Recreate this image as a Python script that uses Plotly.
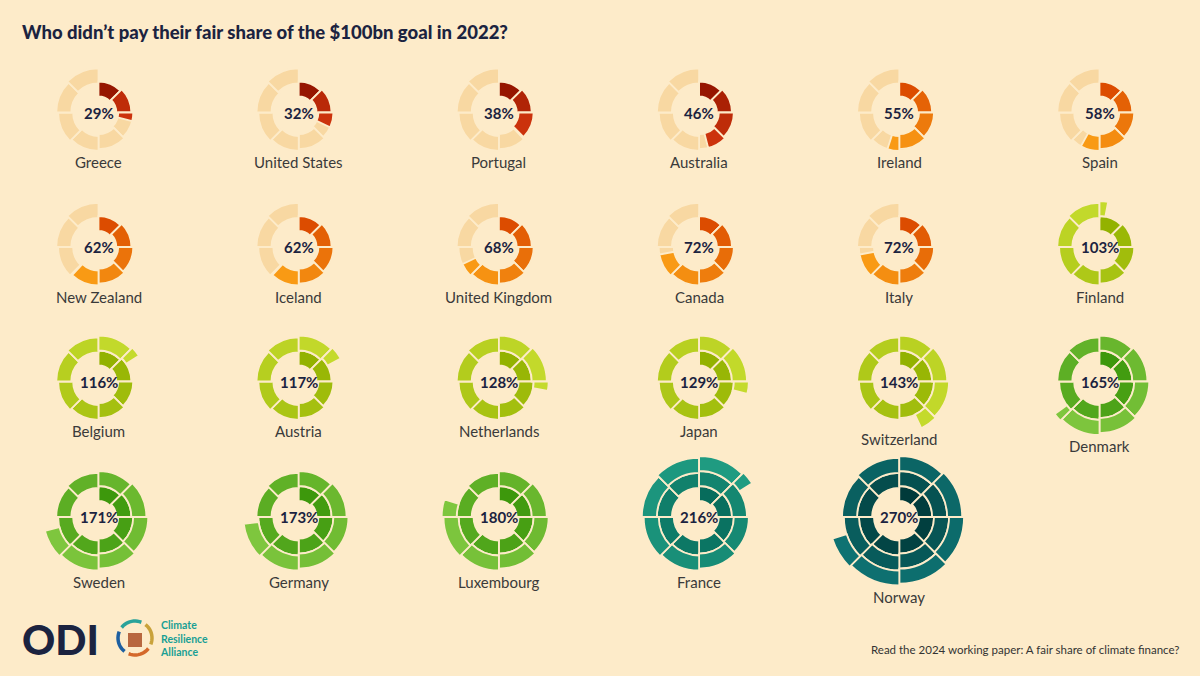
import numpy as np
import plotly.graph_objects as go

# ---------------- data ----------------
countries = ["Greece", "United States", "Portugal", "Australia", "Ireland", "Spain",
             "New Zealand", "Iceland", "United Kingdom", "Canada", "Italy", "Finland",
             "Belgium", "Austria", "Netherlands", "Japan", "Switzerland", "Denmark",
             "Sweden", "Germany", "Luxembourg", "France", "Norway"]
shares = [29, 32, 38, 46, 55, 58,
          62, 62, 68, 72, 72, 103,
          116, 117, 128, 129, 143, 165,
          171, 173, 180, 216, 270]

title_text = "Who didn\u2019t pay their fair share of the $100bn goal in 2022?"
footer_text = "Read the 2024 working paper: A fair share of climate finance?"

# ---------------- style ----------------
W, H = 1200, 676
BG = "#fdebc9"
PALE = "#f8d8a2"
NAVY = "#1b2340"
LABEL = "#3a3a3a"

def palette(v):
    if v < 50:
        return ("#961600", "#cc330c")
    if v < 100:
        return ("#dc4c00", "#f99a14")
    if v < 150:
        return ("#93b200", "#c4da2c")
    if v < 200:
        return ("#3d980c", "#7ec63e")
    if v < 250:
        return ("#076c5c", "#1f9c82")
    return ("#003a3a", "#0e7272")

def mix(c1, c2, t):
    a = [int(c1[i:i + 2], 16) for i in (1, 3, 5)]
    b = [int(c2[i:i + 2], 16) for i in (1, 3, 5)]
    return "#" + "".join(f"{int(round(x + (y - x) * t)):02x}" for x, y in zip(a, b))

SEG_PCT = 12.5          # each segment = 12.5 % = 45 degrees
SEG_DEG = 45.0
R0 = 16.0               # inner radius of first segment (px)
PITCH = 15.0            # radial growth per full turn (px)
STEP = PITCH / 8.0
RING = 15.0             # radial thickness of a segment (px)
S = 150                 # square polar domain size (px)
RMAX = S / 2.0

col_x = [98.5 + 200.2 * k for k in range(6)]
row_y = [112.5, 247.0, 381.5, 517.0]

fig = go.Figure()
annotations = []


def bottom_extent(start, width, r_out):
    ang = np.radians(np.linspace(start, start + width, 60))
    return float(np.max(-np.cos(ang) * r_out))


for idx, (name, v) in enumerate(zip(countries, shares)):
    rr, cc = divmod(idx, 6)
    cx, cy = col_x[cc], row_y[rr]
    pid = idx + 1
    sub = "polar" if pid == 1 else f"polar{pid}"
    fig.update_layout({sub: dict(
        domain=dict(x=[(cx - S / 2) / W, (cx + S / 2) / W],
                    y=[1 - (cy + S / 2) / H, 1 - (cy - S / 2) / H]),
        bgcolor="rgba(0,0,0,0)",
        hole=0,
        angularaxis=dict(rotation=90, direction="clockwise", visible=False,
                         showgrid=False, showline=False, ticks=""),
        radialaxis=dict(range=[0, RMAX], visible=False, showgrid=False,
                        showline=False, ticks=""),
    )})

    bottom = 0.0
    # pale background ring for countries under 100 %
    if v < 100:
        th, wd, bs = [], [], []
        for i in range(8):
            th.append(i * SEG_DEG + SEG_DEG / 2)
            wd.append(SEG_DEG)
            bs.append(R0 + i * STEP)
            bottom = max(bottom, bottom_extent(i * SEG_DEG, SEG_DEG, R0 + i * STEP + RING))
        fig.add_trace(go.Barpolar(
            r=[RING] * 8, theta=th, width=wd, base=bs, subplot=sub,
            marker=dict(color=PALE, line=dict(color=BG, width=1.8)),
            hoverinfo="skip", showlegend=False))

    n = v / SEG_PCT
    full = int(n)
    frac = n - full
    segs = list(range(full)) + ([full] if frac > 1e-9 else [])
    dark, light = palette(v)
    th, wd, bs, cols = [], [], [], []
    for i in segs:
        f = 1.0 if i < full else frac
        start = (i * SEG_DEG) % 360
        th.append(start + f * SEG_DEG / 2)
        wd.append(f * SEG_DEG)
        bs.append(R0 + i * STEP)
        t = i / max(1.0, n - 1)
        cols.append(mix(dark, light, min(1.0, t)))
        bottom = max(bottom, bottom_extent(start, f * SEG_DEG, R0 + i * STEP + RING))
    fig.add_trace(go.Barpolar(
        r=[RING] * len(segs), theta=th, width=wd, base=bs, subplot=sub,
        marker=dict(color=cols, line=dict(color=BG, width=1.8)),
        hoverinfo="skip", showlegend=False))

    annotations.append(dict(
        x=cx / W, y=1 - cy / H, xref="paper", yref="paper", showarrow=False,
        text=f"<b>{v}%</b>", font=dict(family="Lato", size=15, color=NAVY),
        xanchor="center", yanchor="middle"))
    annotations.append(dict(
        x=cx / W, y=1 - (cy + bottom + 11) / H, xref="paper", yref="paper",
        showarrow=False, text=name,
        font=dict(family="Lato", size=15, color=LABEL),
        xanchor="center", yanchor="middle"))

# title
annotations.append(dict(
    x=20 / W, y=1 - 32 / H, xref="paper", yref="paper", showarrow=False,
    text=title_text, font=dict(family="Lato", size=18.5, color=NAVY, weight=900),
    xanchor="left", yanchor="middle"))

# footer text
annotations.append(dict(
    x=1181 / W, y=1 - 649 / H, xref="paper", yref="paper", showarrow=False,
    text=footer_text, font=dict(family="Lato", size=11.5, color="#333333"),
    xanchor="right", yanchor="middle"))

# logos (text based)
annotations.append(dict(
    x=20 / W, y=1 - 639 / H, xref="paper", yref="paper", showarrow=False,
    text="ODI", font=dict(family="Lato", size=41, color=NAVY, weight=900),
    xanchor="left", yanchor="middle"))
annotations.append(dict(
    x=158 / W, y=1 - 638 / H, xref="paper", yref="paper", showarrow=False,
    text="<b>Climate<br>Resilience<br>Alliance</b>", align="left",
    font=dict(family="Lato", size=10.5, color="#1a9f94"),
    xanchor="left", yanchor="middle"))

shapes = []
# small ring icon of the alliance logo
icx, icy, ir = 135.0, 638.0, 17.0
arc_cols = ["#2aa39a", "#c9a23a", "#d4682a", "#1d5fa0"]
for k, col in enumerate(arc_cols):
    a0 = np.radians(-60 + k * 90 + 8)
    a1 = np.radians(-60 + (k + 1) * 90 - 8)
    pts = [(icx + ir * np.sin(a), icy - ir * np.cos(a)) for a in np.linspace(a0, a1, 12)]
    path = "M " + " L ".join(f"{px / W:.5f},{1 - py / H:.5f}" for px, py in pts)
    shapes.append(dict(type="path", path=path, xref="paper", yref="paper",
                       line=dict(color=col, width=3.5)))
shapes.append(dict(type="rect", xref="paper", yref="paper",
                   x0=(icx - 7) / W, x1=(icx + 7) / W, y0=1 - (icy + 9) / H, y1=1 - (icy - 5) / H,
                   fillcolor="#b8673f", line=dict(width=0)))

fig.update_layout(
    width=W, height=H, margin=dict(l=0, r=0, t=0, b=0),
    paper_bgcolor=BG, plot_bgcolor=BG,
    annotations=annotations, shapes=shapes, showlegend=False,
)

fig.write_html("out.html", config={"displayModeBar": False},
               post_script="document.body.style.margin='0';document.body.style.overflow='hidden';")
